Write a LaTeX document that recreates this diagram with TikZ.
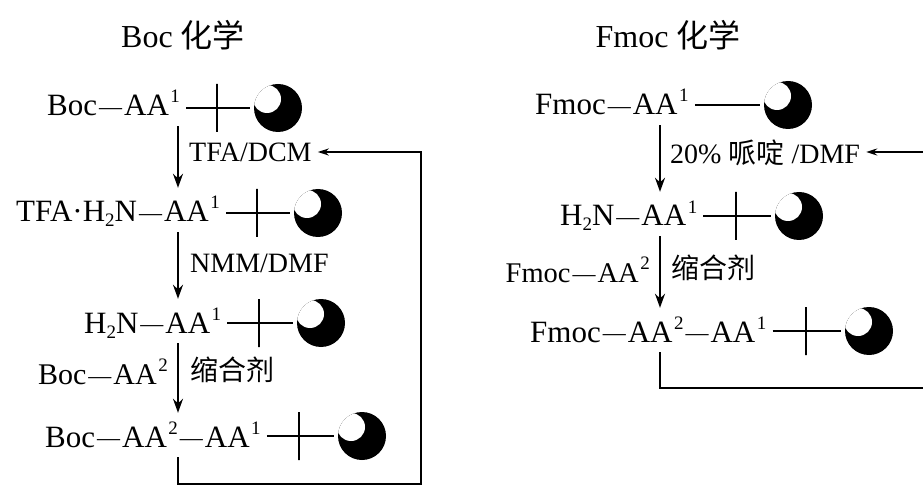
\documentclass[tikz,border=0pt]{standalone}
\usepackage{fontspec}
\setmainfont{Liberation Serif}
\newfontfamily\cjk{Noto Sans CJK SC}
\usetikzlibrary{arrows.meta,positioning,calc}
\newcommand{\upidx}[1]{\kern1.5pt\raisebox{13pt}{\fontsize{19}{19}\selectfont #1}}
\newcommand{\dnidx}[1]{\raisebox{-5pt}{\fontsize{19}{19}\selectfont #1}}
\newcommand{\bnd}{\kern2pt\raisebox{1.5pt}{\fontsize{23}{23}\selectfont —}\kern2pt}
\tikzset{chem/.style={anchor=base west,inner sep=0pt,text height=34pt,text depth=10pt,font=\fontsize{31}{31}\selectfont},
  reagent/.style={inner sep=0pt,font=\fontsize{28}{28}\selectfont},
  heading/.style={inner sep=0pt,font=\fontsize{32}{32}\selectfont},
  resin/.style={circle,fill=black,minimum size=48pt,inner sep=0pt,
    path picture={\fill[white] ($(path picture bounding box.center)+(-11,-9)$) circle (14pt);}},
  cleave/.style={draw,line width=1.7pt,minimum width=0pt,minimum height=48pt,inner sep=0pt},
  bond/.style={line width=1.6pt,shorten <=6pt,shorten >=4pt},
  flow/.style={-{Stealth[length=14pt,width=10pt]},line width=1.8pt},
  back/.style={-{Stealth[length=11pt,width=7pt]},line width=1.8pt}}
\begin{document}
\begin{tikzpicture}[x=1pt,y=-1pt]
\useasboundingbox (0,0) rectangle (923,486);
% Boc
\node[heading] (bochead) at (183,35) {Boc {\cjk 化学}};
\coordinate (bocaxis) at (178,0);
\coordinate (bocfoot) at (421,484);
\node[chem] (boca) at (47,116) {Boc\bnd AA\upidx{1}};
\node[chem] (bocb) at (16,222) {TFA·H\dnidx{2}N\bnd AA\upidx{1}};
\node[chem] (bocc) at (84,333) {H\dnidx{2}N\bnd AA\upidx{1}};
\node[chem] (bocd) at (45,447) {Boc\bnd AA\upidx{2}\bnd AA\upidx{1}};
\node[resin] (resa) at (278,108) {};
\node[resin] (resb) at (318,213) {};
\node[resin] (resc) at (321,323) {};
\node[resin] (resd) at (362,436) {};
\draw[bond] (boca.east |- resa) -- node[cleave] (cuta) {} (resa);
\draw[bond] (bocb.east |- resb) -- node[cleave] (cutb) {} (resb);
\draw[bond] (bocc.east |- resc) -- node[cleave] (cutc) {} (resc);
\draw[bond] (bocd.east |- resd) -- node[cleave] (cutd) {} (resd);
\node[reagent,anchor=west] (tfadcm) at (189,152) {TFA/DCM};
\node[reagent,anchor=west] (nmmdmf) at (190,263) {NMM/DMF};
\node[reagent,anchor=west] (boccond) at (190,370) {{\cjk 缩合剂}};
\node[reagent,anchor=east,font=\fontsize{30}{30}\selectfont] (bocaa) at (168,372) {Boc\bnd AA\upidx{2}};
\draw[flow] (boca.south -| bocaxis) -- (bocb.north -| bocaxis);
\draw[flow] (bocb.south -| bocaxis) -- (bocc.north -| bocaxis);
\draw[flow] (bocc.south -| bocaxis) -- (bocd.north -| bocaxis);
\draw[back] (bocd.south -| bocaxis) -- (bocaxis |- bocfoot) -- (bocfoot) -- (bocfoot |- tfadcm) -- ([xshift=6pt]tfadcm.east);
% Fmoc
\node[heading] (fmochead) at (668,35) {Fmoc {\cjk 化学}};
\coordinate (fmocaxis) at (660,0);
\coordinate (fmocfoot) at (923,388);
\node[chem] (fmoca) at (535,115) {Fmoc\bnd AA\upidx{1}};
\node[chem] (fmocb) at (560,226) {H\dnidx{2}N\bnd AA\upidx{1}};
\node[chem] (fmocc) at (530,342) {Fmoc\bnd AA\upidx{2}\bnd AA\upidx{1}};
\node[resin] (resf) at (788,105) {};
\node[resin] (resg) at (799,216) {};
\node[resin] (resh) at (869,331) {};
\draw[bond] (fmoca.east |- resf) -- (resf);
\draw[bond] (fmocb.east |- resg) -- node[cleave] (cutg) {} (resg);
\draw[bond] (fmocc.east |- resh) -- node[cleave] (cuth) {} (resh);
\node[reagent,anchor=west] (pipdmf) at (670,153) {20\% {\cjk 哌啶} /DMF};
\node[reagent,anchor=west] (fmoccond) at (671,268) {{\cjk 缩合剂}};
\node[reagent,anchor=east,font=\fontsize{28.5}{28.5}\selectfont] (fmocaa) at (650,270) {Fmoc\bnd AA\upidx{2}};
\coordinate (fmocin) at (923,152);
\draw[flow] (fmoca.south -| fmocaxis) -- (fmocb.north -| fmocaxis);
\draw[flow] (fmocb.south -| fmocaxis) -- (fmocc.north -| fmocaxis);
\draw[line width=1.8pt] (fmocc.south -| fmocaxis) -- (fmocaxis |- fmocfoot) -- (fmocfoot);
\draw[back] (fmocin) -- ([xshift=6pt]fmocin -| pipdmf.east);
\end{tikzpicture}
\end{document}
